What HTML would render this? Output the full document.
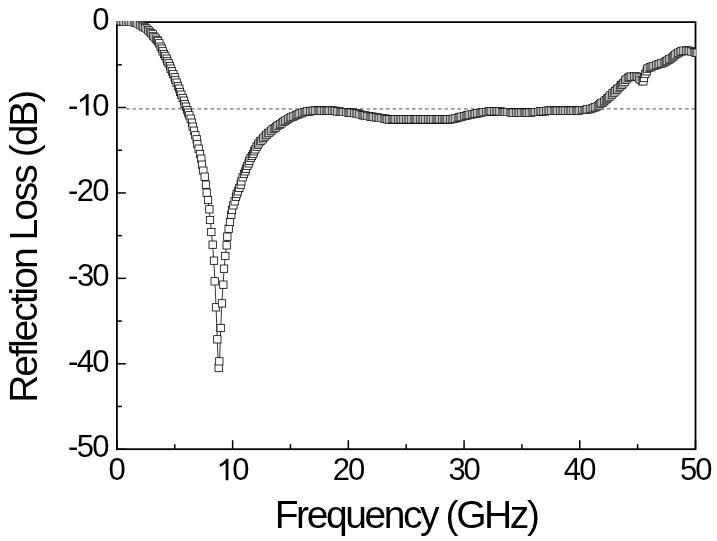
<!DOCTYPE html>
<html><head><meta charset="utf-8"><style>
html,body{margin:0;padding:0;background:#fff;width:717px;height:541px;overflow:hidden}
svg{display:block;will-change:transform}
text{font-family:"Liberation Sans",sans-serif}
</style></head><body>
<svg width="717" height="541" viewBox="0 0 717 541">
<defs><clipPath id="c"><rect x="116" y="21" width="580" height="429"/></clipPath></defs>
<line x1="126" y1="108.9" x2="695" y2="108.9" stroke="#9a9a9a" stroke-width="1.6" stroke-dasharray="3.6 2.9" stroke-dashoffset="0"/>
<rect x="116.9" y="22.1" width="578.6" height="427.09999999999997" stroke="#000" stroke-width="1.8" fill="none"/>
<g stroke="#000" stroke-width="1.5"><line x1="116.90" y1="449.2" x2="116.90" y2="440.2"/><line x1="116.9" y1="22.10" x2="125.9" y2="22.10"/><line x1="174.76" y1="449.2" x2="174.76" y2="444.2"/><line x1="116.9" y1="64.81" x2="121.9" y2="64.81"/><line x1="232.62" y1="449.2" x2="232.62" y2="440.2"/><line x1="116.9" y1="107.52" x2="125.9" y2="107.52"/><line x1="290.48" y1="449.2" x2="290.48" y2="444.2"/><line x1="116.9" y1="150.23" x2="121.9" y2="150.23"/><line x1="348.34" y1="449.2" x2="348.34" y2="440.2"/><line x1="116.9" y1="192.94" x2="125.9" y2="192.94"/><line x1="406.20" y1="449.2" x2="406.20" y2="444.2"/><line x1="116.9" y1="235.65" x2="121.9" y2="235.65"/><line x1="464.06" y1="449.2" x2="464.06" y2="440.2"/><line x1="116.9" y1="278.36" x2="125.9" y2="278.36"/><line x1="521.92" y1="449.2" x2="521.92" y2="444.2"/><line x1="116.9" y1="321.07" x2="121.9" y2="321.07"/><line x1="579.78" y1="449.2" x2="579.78" y2="440.2"/><line x1="116.9" y1="363.78" x2="125.9" y2="363.78"/><line x1="637.64" y1="449.2" x2="637.64" y2="444.2"/><line x1="116.9" y1="406.49" x2="121.9" y2="406.49"/><line x1="695.50" y1="449.2" x2="695.50" y2="440.2"/><line x1="116.9" y1="449.20" x2="125.9" y2="449.20"/></g>
<g clip-path="url(#c)">
<polyline points="117.74,21.60 118.90,21.60 120.06,21.60 121.21,21.60 122.37,21.61 123.53,21.63 124.68,21.67 125.84,21.71 127.00,21.76 128.15,21.81 129.31,21.87 130.47,21.94 131.62,22.03 132.78,22.15 133.94,22.29 135.10,22.53 136.25,22.90 137.41,23.38 138.57,23.91 139.72,24.47 140.88,25.04 142.04,25.67 143.19,26.37 144.35,27.13 145.51,27.94 146.67,28.81 147.82,29.75 148.98,30.77 150.14,31.87 151.29,33.05 152.45,34.32 153.61,35.80 154.76,37.31 155.92,38.61 157.08,39.81 158.24,41.30 159.39,43.60 160.55,46.40 161.71,48.70 162.86,51.00 164.02,53.80 165.18,56.10 166.34,58.40 167.49,61.20 168.65,63.50 169.81,66.00 170.96,68.80 172.12,71.50 173.28,74.30 174.43,77.20 175.59,80.10 176.75,82.90 177.91,85.90 179.06,88.90 180.22,92.00 181.38,94.90 182.53,97.90 183.69,100.90 184.85,103.90 186.00,106.80 187.16,109.80 188.32,112.60 189.47,115.30 190.63,118.60 191.79,122.50 192.95,126.60 194.10,130.60 195.26,135.20 196.42,139.40 197.57,144.00 198.73,148.60 199.89,153.70 201.05,158.80 202.20,164.90 203.36,170.90 204.52,176.80 205.67,184.50 206.83,192.60 207.99,200.00 209.14,209.60 210.30,220.00 211.46,231.90 212.62,244.90 213.77,260.70 214.93,281.60 216.09,307.40 217.24,339.50 218.40,367.80 219.56,361.50 220.71,328.20 221.87,303.60 223.03,284.60 224.19,268.70 225.34,255.70 226.50,245.40 227.66,236.60 228.81,228.50 229.97,221.70 231.13,214.40 232.28,209.70 233.44,205.50 234.60,201.40 235.75,196.80 236.91,194.00 238.07,191.60 239.23,188.20 240.38,184.70 241.54,181.20 242.70,177.60 243.85,174.20 245.01,171.20 246.17,168.40 247.33,165.70 248.48,163.30 249.64,160.70 250.80,158.30 251.95,156.00 253.11,153.70 254.27,151.40 255.42,149.00 256.58,146.40 257.74,144.57 258.89,143.02 260.05,141.65 261.21,140.37 262.37,139.10 263.52,137.85 264.68,136.66 265.84,135.52 266.99,134.42 268.15,133.37 269.31,132.36 270.47,131.39 271.62,130.46 272.78,129.56 273.94,128.69 275.09,127.84 276.25,127.02 277.41,126.20 278.56,125.40 279.72,124.61 280.88,123.82 282.04,123.04 283.19,122.27 284.35,121.52 285.51,120.79 286.66,120.08 287.82,119.41 288.98,118.77 290.13,118.15 291.29,117.55 292.45,116.97 293.61,116.40 294.76,115.86 295.92,115.35 297.08,114.86 298.23,114.41 299.39,113.98 300.55,113.56 301.70,113.13 302.86,112.72 304.02,112.33 305.18,111.98 306.33,111.68 307.49,111.45 308.65,111.30 309.80,111.18 310.96,111.07 312.12,110.98 313.27,110.89 314.43,110.82 315.59,110.76 316.75,110.72 317.90,110.70 319.06,110.70 320.22,110.70 321.37,110.70 322.53,110.71 323.69,110.72 324.84,110.72 326.00,110.73 327.16,110.74 328.31,110.75 329.47,110.76 330.63,110.78 331.79,110.79 332.94,110.82 334.10,110.88 335.26,110.97 336.41,111.09 337.57,111.23 338.73,111.39 339.88,111.55 341.04,111.70 342.20,111.85 343.36,111.98 344.51,112.10 345.67,112.21 346.83,112.31 347.98,112.41 349.14,112.51 350.30,112.61 351.46,112.73 352.61,112.85 353.77,112.99 354.93,113.15 356.08,113.35 357.24,113.59 358.40,113.87 359.55,114.17 360.71,114.47 361.87,114.78 363.02,115.08 364.18,115.36 365.34,115.61 366.50,115.83 367.65,116.02 368.81,116.21 369.97,116.39 371.12,116.57 372.28,116.73 373.44,116.90 374.60,117.06 375.75,117.22 376.91,117.39 378.07,117.56 379.22,117.74 380.38,117.94 381.54,118.13 382.69,118.33 383.85,118.52 385.01,118.70 386.17,118.86 387.32,119.01 388.48,119.13 389.64,119.23 390.79,119.29 391.95,119.32 393.11,119.35 394.26,119.37 395.42,119.40 396.58,119.42 397.74,119.45 398.89,119.47 400.05,119.49 401.21,119.51 402.36,119.52 403.52,119.54 404.68,119.55 405.83,119.56 406.99,119.57 408.15,119.58 409.31,119.59 410.46,119.59 411.62,119.60 412.78,119.60 413.93,119.60 415.09,119.60 416.25,119.60 417.40,119.60 418.56,119.60 419.72,119.60 420.88,119.60 422.03,119.60 423.19,119.60 424.35,119.60 425.50,119.60 426.66,119.60 427.82,119.60 428.97,119.60 430.13,119.60 431.29,119.60 432.45,119.60 433.60,119.60 434.76,119.60 435.92,119.60 437.07,119.60 438.23,119.60 439.39,119.60 440.54,119.60 441.70,119.60 442.86,119.59 444.01,119.56 445.17,119.51 446.33,119.45 447.49,119.38 448.64,119.30 449.80,119.21 450.96,119.11 452.11,119.01 453.27,118.86 454.43,118.64 455.59,118.37 456.74,118.05 457.90,117.71 459.06,117.37 460.21,117.05 461.37,116.76 462.53,116.49 463.68,116.22 464.84,115.94 466.00,115.67 467.15,115.41 468.31,115.15 469.47,114.89 470.63,114.64 471.78,114.40 472.94,114.17 474.10,113.94 475.25,113.71 476.41,113.48 477.57,113.25 478.73,113.04 479.88,112.83 481.04,112.64 482.20,112.47 483.35,112.32 484.51,112.18 485.67,112.03 486.82,111.89 487.98,111.75 489.14,111.62 490.29,111.51 491.45,111.42 492.61,111.35 493.77,111.31 494.92,111.30 496.08,111.32 497.24,111.37 498.39,111.44 499.55,111.52 500.71,111.61 501.87,111.71 503.02,111.80 504.18,111.89 505.34,111.97 506.49,112.04 507.65,112.12 508.81,112.20 509.96,112.28 511.12,112.36 512.28,112.44 513.44,112.50 514.59,112.55 515.75,112.59 516.91,112.60 518.06,112.60 519.22,112.60 520.38,112.60 521.53,112.60 522.69,112.60 523.85,112.60 525.00,112.60 526.16,112.60 527.32,112.60 528.48,112.60 529.63,112.57 530.79,112.51 531.95,112.42 533.10,112.33 534.26,112.22 535.42,112.11 536.58,112.01 537.73,111.91 538.89,111.78 540.05,111.65 541.20,111.50 542.36,111.36 543.52,111.23 544.67,111.10 545.83,111.00 546.99,110.93 548.14,110.89 549.30,110.87 550.46,110.85 551.62,110.83 552.77,110.82 553.93,110.81 555.09,110.79 556.24,110.78 557.40,110.77 558.56,110.77 559.72,110.76 560.87,110.74 562.03,110.73 563.19,110.72 564.34,110.70 565.50,110.69 566.66,110.67 567.81,110.65 568.97,110.63 570.13,110.61 571.28,110.59 572.44,110.56 573.60,110.53 574.76,110.50 575.91,110.47 577.07,110.43 578.23,110.39 579.38,110.34 580.54,110.28 581.70,110.21 582.86,110.14 584.01,110.05 585.17,109.94 586.33,109.79 587.48,109.59 588.64,109.34 589.80,109.05 590.95,108.73 592.11,108.37 593.27,107.99 594.43,107.59 595.58,107.11 596.74,106.52 597.90,105.83 599.05,105.07 600.21,104.27 601.37,103.45 602.52,102.62 603.68,101.74 604.84,100.79 606.00,99.80 607.15,98.77 608.31,97.72 609.47,96.65 610.62,95.57 611.78,94.50 612.94,93.44 614.09,92.36 615.25,91.26 616.41,90.15 617.57,89.03 618.72,87.89 619.88,86.74 621.04,85.58 622.19,84.40 623.35,83.09 624.51,81.68 625.66,80.30 626.82,79.10 627.98,78.21 629.13,77.54 630.29,76.97 631.45,76.59 632.61,76.45 633.76,76.37 634.92,76.32 636.08,76.30 637.23,76.69 638.39,77.52 639.55,78.53 640.71,79.95 641.86,81.36 643.02,81.10 644.18,78.17 645.33,74.32 646.49,71.02 647.65,68.58 648.80,67.85 649.96,67.57 651.12,67.26 652.27,66.82 653.43,66.33 654.59,65.82 655.75,65.32 656.90,64.87 658.06,64.50 659.22,64.19 660.37,63.90 661.53,63.58 662.69,63.19 663.85,62.72 665.00,62.17 666.16,61.56 667.32,60.91 668.47,60.22 669.63,59.51 670.79,58.72 671.94,57.80 673.10,56.82 674.26,55.82 675.41,54.89 676.57,54.07 677.73,53.41 678.89,52.75 680.04,52.09 681.20,51.50 682.36,51.02 683.51,50.71 684.67,50.60 685.83,50.63 686.99,50.70 688.14,50.81 689.30,50.94 690.46,51.11 691.61,51.42 692.77,51.79 693.93,52.15 695.08,52.41 696.24,52.60 697.40,52.76 698.56,52.89" fill="none" stroke="#000" stroke-width="0.8"/>
<g fill="#fff" stroke="#000" stroke-width="0.75"><rect x="114.333" y="17.667" width="7.333" height="7.333" stroke-width="0.55"/><rect x="115.000" y="17.667" width="7.333" height="7.333" stroke-width="0.55"/><rect x="116.333" y="17.667" width="7.333" height="7.333" stroke-width="0.55"/><rect x="117.667" y="17.667" width="7.333" height="7.333" stroke-width="0.55"/><rect x="119.000" y="17.667" width="7.333" height="7.333" stroke-width="0.55"/><rect x="119.667" y="17.667" width="7.333" height="7.333" stroke-width="0.55"/><rect x="121.000" y="18.333" width="7.333" height="7.333" stroke-width="0.55"/><rect x="122.333" y="18.333" width="7.333" height="7.333" stroke-width="0.55"/><rect x="123.000" y="18.333" width="7.333" height="7.333" stroke-width="0.55"/><rect x="124.333" y="18.333" width="7.333" height="7.333" stroke-width="0.55"/><rect x="125.667" y="18.333" width="7.333" height="7.333" stroke-width="0.55"/><rect x="127.000" y="18.333" width="7.333" height="7.333" stroke-width="0.55"/><rect x="127.667" y="18.333" width="7.333" height="7.333" stroke-width="0.55"/><rect x="129.000" y="18.333" width="7.333" height="7.333" stroke-width="0.55"/><rect x="130.333" y="18.333" width="7.333" height="7.333" stroke-width="0.55"/><rect x="131.667" y="19.000" width="7.333" height="7.333" stroke-width="0.55"/><rect x="132.333" y="19.000" width="7.333" height="7.333" stroke-width="0.55"/><rect x="133.667" y="19.667" width="7.333" height="7.333" stroke-width="0.56"/><rect x="135.000" y="20.333" width="7.333" height="7.333" stroke-width="0.56"/><rect x="136.333" y="21.000" width="7.333" height="7.333" stroke-width="0.57"/><rect x="137.000" y="21.667" width="7.333" height="7.333" stroke-width="0.57"/><rect x="138.333" y="22.333" width="7.333" height="7.333" stroke-width="0.58"/><rect x="139.667" y="23.000" width="7.333" height="7.333" stroke-width="0.59"/><rect x="141.000" y="23.667" width="7.333" height="7.333" stroke-width="0.60"/><rect x="141.667" y="24.333" width="7.333" height="7.333" stroke-width="0.61"/><rect x="143.000" y="25.000" width="7.333" height="7.333" stroke-width="0.62"/><rect x="144.333" y="26.333" width="7.333" height="7.333" stroke-width="0.63"/><rect x="145.000" y="27.000" width="7.333" height="7.333" stroke-width="0.64"/><rect x="146.333" y="28.333" width="7.333" height="7.333" stroke-width="0.65"/><rect x="147.667" y="29.667" width="7.333" height="7.333" stroke-width="0.67"/><rect x="149.000" y="30.333" width="7.333" height="7.333" stroke-width="0.69"/><rect x="149.667" y="32.333" width="7.333" height="7.333" stroke-width="0.71"/><rect x="151.000" y="33.667" width="7.333" height="7.333" stroke-width="0.70"/><rect x="152.333" y="35.000" width="7.333" height="7.333" stroke-width="0.67"/><rect x="153.667" y="36.333" width="7.333" height="7.333" stroke-width="0.69"/><rect x="154.333" y="37.667" width="7.333" height="7.333" stroke-width="0.77"/><rect x="155.667" y="39.667" width="7.333" height="7.333" stroke-width="0.80"/><rect x="157.000" y="43.000" width="7.333" height="7.333" stroke-width="0.80"/><rect x="158.333" y="45.000" width="7.333" height="7.333" stroke-width="0.80"/><rect x="159.000" y="47.667" width="7.333" height="7.333" stroke-width="0.80"/><rect x="160.333" y="50.333" width="7.333" height="7.333" stroke-width="0.80"/><rect x="161.667" y="52.333" width="7.333" height="7.333" stroke-width="0.80"/><rect x="163.000" y="55.000" width="7.333" height="7.333" stroke-width="0.80"/><rect x="163.667" y="57.667" width="7.333" height="7.333" stroke-width="0.80"/><rect x="165.000" y="59.667" width="7.333" height="7.333" stroke-width="0.80"/><rect x="166.333" y="62.333" width="7.333" height="7.333" stroke-width="0.80"/><rect x="167.000" y="65.000" width="7.333" height="7.333" stroke-width="0.80"/><rect x="168.333" y="67.667" width="7.333" height="7.333" stroke-width="0.80"/><rect x="169.667" y="70.333" width="7.333" height="7.333" stroke-width="0.80"/><rect x="171.000" y="73.667" width="7.333" height="7.333" stroke-width="0.80"/><rect x="171.667" y="76.333" width="7.333" height="7.333" stroke-width="0.80"/><rect x="173.000" y="79.000" width="7.333" height="7.333" stroke-width="0.80"/><rect x="174.333" y="82.333" width="7.333" height="7.333" stroke-width="0.80"/><rect x="175.667" y="85.000" width="7.333" height="7.333" stroke-width="0.80"/><rect x="176.333" y="88.333" width="7.333" height="7.333" stroke-width="0.80"/><rect x="177.667" y="91.000" width="7.333" height="7.333" stroke-width="0.80"/><rect x="179.000" y="94.333" width="7.333" height="7.333" stroke-width="0.80"/><rect x="180.333" y="97.000" width="7.333" height="7.333" stroke-width="0.80"/><rect x="181.000" y="100.333" width="7.333" height="7.333" stroke-width="0.80"/><rect x="182.333" y="103.000" width="7.333" height="7.333" stroke-width="0.80"/><rect x="183.667" y="106.333" width="7.333" height="7.333" stroke-width="0.80"/><rect x="184.333" y="109.000" width="7.333" height="7.333" stroke-width="0.80"/><rect x="185.667" y="111.667" width="7.333" height="7.333" stroke-width="0.80"/><rect x="187.000" y="115.000" width="7.333" height="7.333" stroke-width="0.80"/><rect x="188.333" y="119.000" width="7.333" height="7.333" stroke-width="0.80"/><rect x="189.000" y="123.000" width="7.333" height="7.333" stroke-width="0.80"/><rect x="190.333" y="127.000" width="7.333" height="7.333" stroke-width="0.80"/><rect x="191.667" y="131.667" width="7.333" height="7.333" stroke-width="0.80"/><rect x="193.000" y="135.667" width="7.333" height="7.333" stroke-width="0.80"/><rect x="193.667" y="140.333" width="7.333" height="7.333" stroke-width="0.80"/><rect x="195.000" y="145.000" width="7.333" height="7.333" stroke-width="0.80"/><rect x="196.333" y="150.333" width="7.333" height="7.333" stroke-width="0.80"/><rect x="197.667" y="155.000" width="7.333" height="7.333" stroke-width="0.80"/><rect x="198.333" y="161.000" width="7.333" height="7.333" stroke-width="0.80"/><rect x="199.667" y="167.000" width="7.333" height="7.333" stroke-width="0.80"/><rect x="201.000" y="173.000" width="7.333" height="7.333" stroke-width="0.80"/><rect x="202.333" y="181.000" width="7.333" height="7.333" stroke-width="0.80"/><rect x="203.000" y="189.000" width="7.333" height="7.333" stroke-width="0.80"/><rect x="204.333" y="196.333" width="7.333" height="7.333" stroke-width="0.80"/><rect x="205.667" y="205.667" width="7.333" height="7.333" stroke-width="0.80"/><rect x="206.333" y="216.333" width="7.333" height="7.333" stroke-width="0.80"/><rect x="207.667" y="228.333" width="7.333" height="7.333" stroke-width="0.80"/><rect x="209.000" y="241.000" width="7.333" height="7.333" stroke-width="0.80"/><rect x="210.333" y="257.000" width="7.333" height="7.333" stroke-width="0.80"/><rect x="211.000" y="277.667" width="7.333" height="7.333" stroke-width="0.80"/><rect x="212.333" y="303.667" width="7.333" height="7.333" stroke-width="0.80"/><rect x="213.667" y="335.667" width="7.333" height="7.333" stroke-width="0.80"/><rect x="215.000" y="364.333" width="7.333" height="7.333" stroke-width="0.80"/><rect x="215.667" y="357.667" width="7.333" height="7.333" stroke-width="0.80"/><rect x="217.000" y="324.333" width="7.333" height="7.333" stroke-width="0.80"/><rect x="218.333" y="299.667" width="7.333" height="7.333" stroke-width="0.80"/><rect x="219.667" y="281.000" width="7.333" height="7.333" stroke-width="0.80"/><rect x="220.333" y="265.000" width="7.333" height="7.333" stroke-width="0.80"/><rect x="221.667" y="252.333" width="7.333" height="7.333" stroke-width="0.80"/><rect x="223.000" y="241.667" width="7.333" height="7.333" stroke-width="0.80"/><rect x="223.667" y="233.000" width="7.333" height="7.333" stroke-width="0.80"/><rect x="225.000" y="225.000" width="7.333" height="7.333" stroke-width="0.80"/><rect x="226.333" y="218.333" width="7.333" height="7.333" stroke-width="0.80"/><rect x="227.667" y="211.000" width="7.333" height="7.333" stroke-width="0.80"/><rect x="228.333" y="206.333" width="7.333" height="7.333" stroke-width="0.80"/><rect x="229.667" y="201.667" width="7.333" height="7.333" stroke-width="0.80"/><rect x="231.000" y="197.667" width="7.333" height="7.333" stroke-width="0.80"/><rect x="232.333" y="193.000" width="7.333" height="7.333" stroke-width="0.80"/><rect x="233.000" y="190.333" width="7.333" height="7.333" stroke-width="0.80"/><rect x="234.333" y="187.667" width="7.333" height="7.333" stroke-width="0.80"/><rect x="235.667" y="184.333" width="7.333" height="7.333" stroke-width="0.80"/><rect x="237.000" y="181.000" width="7.333" height="7.333" stroke-width="0.80"/><rect x="237.667" y="177.667" width="7.333" height="7.333" stroke-width="0.80"/><rect x="239.000" y="173.667" width="7.333" height="7.333" stroke-width="0.80"/><rect x="240.333" y="170.333" width="7.333" height="7.333" stroke-width="0.80"/><rect x="241.667" y="167.667" width="7.333" height="7.333" stroke-width="0.80"/><rect x="242.333" y="165.000" width="7.333" height="7.333" stroke-width="0.80"/><rect x="243.667" y="162.333" width="7.333" height="7.333" stroke-width="0.80"/><rect x="245.000" y="159.667" width="7.333" height="7.333" stroke-width="0.80"/><rect x="245.667" y="157.000" width="7.333" height="7.333" stroke-width="0.80"/><rect x="247.000" y="154.333" width="7.333" height="7.333" stroke-width="0.80"/><rect x="248.333" y="152.333" width="7.333" height="7.333" stroke-width="0.80"/><rect x="249.667" y="150.333" width="7.333" height="7.333" stroke-width="0.80"/><rect x="250.333" y="147.667" width="7.333" height="7.333" stroke-width="0.80"/><rect x="251.667" y="145.667" width="7.333" height="7.333" stroke-width="0.80"/><rect x="253.000" y="143.000" width="7.333" height="7.333" stroke-width="0.80"/><rect x="254.333" y="141.000" width="7.333" height="7.333" stroke-width="0.74"/><rect x="255.000" y="139.667" width="7.333" height="7.333" stroke-width="0.70"/><rect x="256.333" y="137.667" width="7.333" height="7.333" stroke-width="0.68"/><rect x="257.667" y="137.000" width="7.333" height="7.333" stroke-width="0.68"/><rect x="259.000" y="135.667" width="7.333" height="7.333" stroke-width="0.67"/><rect x="259.667" y="134.333" width="7.333" height="7.333" stroke-width="0.67"/><rect x="261.000" y="133.000" width="7.333" height="7.333" stroke-width="0.66"/><rect x="262.333" y="131.667" width="7.333" height="7.333" stroke-width="0.65"/><rect x="263.000" y="131.000" width="7.333" height="7.333" stroke-width="0.64"/><rect x="264.333" y="129.667" width="7.333" height="7.333" stroke-width="0.64"/><rect x="265.667" y="129.000" width="7.333" height="7.333" stroke-width="0.63"/><rect x="267.000" y="127.667" width="7.333" height="7.333" stroke-width="0.63"/><rect x="267.667" y="127.000" width="7.333" height="7.333" stroke-width="0.62"/><rect x="269.000" y="125.667" width="7.333" height="7.333" stroke-width="0.62"/><rect x="270.333" y="125.000" width="7.333" height="7.333" stroke-width="0.61"/><rect x="271.667" y="124.333" width="7.333" height="7.333" stroke-width="0.61"/><rect x="272.333" y="123.667" width="7.333" height="7.333" stroke-width="0.61"/><rect x="273.667" y="122.333" width="7.333" height="7.333" stroke-width="0.60"/><rect x="275.000" y="121.667" width="7.333" height="7.333" stroke-width="0.60"/><rect x="276.333" y="121.000" width="7.333" height="7.333" stroke-width="0.60"/><rect x="277.000" y="120.333" width="7.333" height="7.333" stroke-width="0.60"/><rect x="278.333" y="119.667" width="7.333" height="7.333" stroke-width="0.60"/><rect x="279.667" y="118.333" width="7.333" height="7.333" stroke-width="0.60"/><rect x="281.000" y="117.667" width="7.333" height="7.333" stroke-width="0.59"/><rect x="281.667" y="117.000" width="7.333" height="7.333" stroke-width="0.59"/><rect x="283.000" y="116.333" width="7.333" height="7.333" stroke-width="0.59"/><rect x="284.333" y="115.667" width="7.333" height="7.333" stroke-width="0.58"/><rect x="285.000" y="115.000" width="7.333" height="7.333" stroke-width="0.58"/><rect x="286.333" y="114.333" width="7.333" height="7.333" stroke-width="0.57"/><rect x="287.667" y="113.667" width="7.333" height="7.333" stroke-width="0.57"/><rect x="289.000" y="113.000" width="7.333" height="7.333" stroke-width="0.57"/><rect x="289.667" y="113.000" width="7.333" height="7.333" stroke-width="0.56"/><rect x="291.000" y="112.333" width="7.333" height="7.333" stroke-width="0.56"/><rect x="292.333" y="111.667" width="7.333" height="7.333" stroke-width="0.56"/><rect x="293.667" y="111.000" width="7.333" height="7.333" stroke-width="0.55"/><rect x="294.333" y="111.000" width="7.333" height="7.333" stroke-width="0.55"/><rect x="295.667" y="110.333" width="7.333" height="7.333" stroke-width="0.55"/><rect x="297.000" y="109.667" width="7.333" height="7.333" stroke-width="0.55"/><rect x="298.333" y="109.667" width="7.333" height="7.333" stroke-width="0.55"/><rect x="299.000" y="109.000" width="7.333" height="7.333" stroke-width="0.55"/><rect x="300.333" y="108.333" width="7.333" height="7.333" stroke-width="0.55"/><rect x="301.667" y="108.333" width="7.333" height="7.333" stroke-width="0.55"/><rect x="302.333" y="108.333" width="7.333" height="7.333" stroke-width="0.55"/><rect x="303.667" y="107.667" width="7.333" height="7.333" stroke-width="0.55"/><rect x="305.000" y="107.667" width="7.333" height="7.333" stroke-width="0.55"/><rect x="306.333" y="107.667" width="7.333" height="7.333" stroke-width="0.55"/><rect x="307.000" y="107.667" width="7.333" height="7.333" stroke-width="0.55"/><rect x="308.333" y="107.000" width="7.333" height="7.333" stroke-width="0.55"/><rect x="309.667" y="107.000" width="7.333" height="7.333" stroke-width="0.55"/><rect x="311.000" y="107.000" width="7.333" height="7.333" stroke-width="0.55"/><rect x="311.667" y="107.000" width="7.333" height="7.333" stroke-width="0.55"/><rect x="313.000" y="107.000" width="7.333" height="7.333" stroke-width="0.55"/><rect x="314.333" y="107.000" width="7.333" height="7.333" stroke-width="0.55"/><rect x="315.667" y="107.000" width="7.333" height="7.333" stroke-width="0.55"/><rect x="316.333" y="107.000" width="7.333" height="7.333" stroke-width="0.55"/><rect x="317.667" y="107.000" width="7.333" height="7.333" stroke-width="0.55"/><rect x="319.000" y="107.000" width="7.333" height="7.333" stroke-width="0.55"/><rect x="320.333" y="107.000" width="7.333" height="7.333" stroke-width="0.55"/><rect x="321.000" y="107.000" width="7.333" height="7.333" stroke-width="0.55"/><rect x="322.333" y="107.000" width="7.333" height="7.333" stroke-width="0.55"/><rect x="323.667" y="107.000" width="7.333" height="7.333" stroke-width="0.55"/><rect x="324.333" y="107.000" width="7.333" height="7.333" stroke-width="0.55"/><rect x="325.667" y="107.000" width="7.333" height="7.333" stroke-width="0.55"/><rect x="327.000" y="107.000" width="7.333" height="7.333" stroke-width="0.55"/><rect x="328.333" y="107.000" width="7.333" height="7.333" stroke-width="0.55"/><rect x="329.000" y="107.000" width="7.333" height="7.333" stroke-width="0.55"/><rect x="330.333" y="107.000" width="7.333" height="7.333" stroke-width="0.55"/><rect x="331.667" y="107.000" width="7.333" height="7.333" stroke-width="0.55"/><rect x="333.000" y="107.667" width="7.333" height="7.333" stroke-width="0.55"/><rect x="333.667" y="107.667" width="7.333" height="7.333" stroke-width="0.55"/><rect x="335.000" y="107.667" width="7.333" height="7.333" stroke-width="0.55"/><rect x="336.333" y="107.667" width="7.333" height="7.333" stroke-width="0.55"/><rect x="337.667" y="108.333" width="7.333" height="7.333" stroke-width="0.55"/><rect x="338.333" y="108.333" width="7.333" height="7.333" stroke-width="0.55"/><rect x="339.667" y="108.333" width="7.333" height="7.333" stroke-width="0.55"/><rect x="341.000" y="108.333" width="7.333" height="7.333" stroke-width="0.55"/><rect x="342.333" y="108.333" width="7.333" height="7.333" stroke-width="0.55"/><rect x="343.000" y="108.333" width="7.333" height="7.333" stroke-width="0.55"/><rect x="344.333" y="109.000" width="7.333" height="7.333" stroke-width="0.55"/><rect x="345.667" y="109.000" width="7.333" height="7.333" stroke-width="0.55"/><rect x="346.333" y="109.000" width="7.333" height="7.333" stroke-width="0.55"/><rect x="347.667" y="109.000" width="7.333" height="7.333" stroke-width="0.55"/><rect x="349.000" y="109.000" width="7.333" height="7.333" stroke-width="0.55"/><rect x="350.333" y="109.000" width="7.333" height="7.333" stroke-width="0.55"/><rect x="351.000" y="109.667" width="7.333" height="7.333" stroke-width="0.55"/><rect x="352.333" y="109.667" width="7.333" height="7.333" stroke-width="0.55"/><rect x="353.667" y="109.667" width="7.333" height="7.333" stroke-width="0.55"/><rect x="355.000" y="110.333" width="7.333" height="7.333" stroke-width="0.55"/><rect x="355.667" y="110.333" width="7.333" height="7.333" stroke-width="0.55"/><rect x="357.000" y="111.000" width="7.333" height="7.333" stroke-width="0.55"/><rect x="358.333" y="111.000" width="7.333" height="7.333" stroke-width="0.55"/><rect x="359.667" y="111.667" width="7.333" height="7.333" stroke-width="0.55"/><rect x="360.333" y="111.667" width="7.333" height="7.333" stroke-width="0.55"/><rect x="361.667" y="111.667" width="7.333" height="7.333" stroke-width="0.55"/><rect x="363.000" y="112.333" width="7.333" height="7.333" stroke-width="0.55"/><rect x="363.667" y="112.333" width="7.333" height="7.333" stroke-width="0.55"/><rect x="365.000" y="112.333" width="7.333" height="7.333" stroke-width="0.55"/><rect x="366.333" y="113.000" width="7.333" height="7.333" stroke-width="0.55"/><rect x="367.667" y="113.000" width="7.333" height="7.333" stroke-width="0.55"/><rect x="368.333" y="113.000" width="7.333" height="7.333" stroke-width="0.55"/><rect x="369.667" y="113.000" width="7.333" height="7.333" stroke-width="0.55"/><rect x="371.000" y="113.667" width="7.333" height="7.333" stroke-width="0.55"/><rect x="372.333" y="113.667" width="7.333" height="7.333" stroke-width="0.55"/><rect x="373.000" y="113.667" width="7.333" height="7.333" stroke-width="0.55"/><rect x="374.333" y="113.667" width="7.333" height="7.333" stroke-width="0.55"/><rect x="375.667" y="114.333" width="7.333" height="7.333" stroke-width="0.55"/><rect x="377.000" y="114.333" width="7.333" height="7.333" stroke-width="0.55"/><rect x="377.667" y="114.333" width="7.333" height="7.333" stroke-width="0.55"/><rect x="379.000" y="114.333" width="7.333" height="7.333" stroke-width="0.55"/><rect x="380.333" y="115.000" width="7.333" height="7.333" stroke-width="0.55"/><rect x="381.667" y="115.000" width="7.333" height="7.333" stroke-width="0.55"/><rect x="382.333" y="115.000" width="7.333" height="7.333" stroke-width="0.55"/><rect x="383.667" y="115.667" width="7.333" height="7.333" stroke-width="0.55"/><rect x="385.000" y="115.667" width="7.333" height="7.333" stroke-width="0.55"/><rect x="385.667" y="115.667" width="7.333" height="7.333" stroke-width="0.55"/><rect x="387.000" y="115.667" width="7.333" height="7.333" stroke-width="0.55"/><rect x="388.333" y="115.667" width="7.333" height="7.333" stroke-width="0.55"/><rect x="389.667" y="115.667" width="7.333" height="7.333" stroke-width="0.55"/><rect x="390.333" y="115.667" width="7.333" height="7.333" stroke-width="0.55"/><rect x="391.667" y="115.667" width="7.333" height="7.333" stroke-width="0.55"/><rect x="393.000" y="115.667" width="7.333" height="7.333" stroke-width="0.55"/><rect x="394.333" y="115.667" width="7.333" height="7.333" stroke-width="0.55"/><rect x="395.000" y="115.667" width="7.333" height="7.333" stroke-width="0.55"/><rect x="396.333" y="115.667" width="7.333" height="7.333" stroke-width="0.55"/><rect x="397.667" y="115.667" width="7.333" height="7.333" stroke-width="0.55"/><rect x="399.000" y="115.667" width="7.333" height="7.333" stroke-width="0.55"/><rect x="399.667" y="115.667" width="7.333" height="7.333" stroke-width="0.55"/><rect x="401.000" y="115.667" width="7.333" height="7.333" stroke-width="0.55"/><rect x="402.333" y="115.667" width="7.333" height="7.333" stroke-width="0.55"/><rect x="403.000" y="115.667" width="7.333" height="7.333" stroke-width="0.55"/><rect x="404.333" y="115.667" width="7.333" height="7.333" stroke-width="0.55"/><rect x="405.667" y="115.667" width="7.333" height="7.333" stroke-width="0.55"/><rect x="407.000" y="115.667" width="7.333" height="7.333" stroke-width="0.55"/><rect x="407.667" y="115.667" width="7.333" height="7.333" stroke-width="0.55"/><rect x="409.000" y="115.667" width="7.333" height="7.333" stroke-width="0.55"/><rect x="410.333" y="115.667" width="7.333" height="7.333" stroke-width="0.55"/><rect x="411.667" y="115.667" width="7.333" height="7.333" stroke-width="0.55"/><rect x="412.333" y="115.667" width="7.333" height="7.333" stroke-width="0.55"/><rect x="413.667" y="115.667" width="7.333" height="7.333" stroke-width="0.55"/><rect x="415.000" y="115.667" width="7.333" height="7.333" stroke-width="0.55"/><rect x="416.333" y="115.667" width="7.333" height="7.333" stroke-width="0.55"/><rect x="417.000" y="115.667" width="7.333" height="7.333" stroke-width="0.55"/><rect x="418.333" y="115.667" width="7.333" height="7.333" stroke-width="0.55"/><rect x="419.667" y="115.667" width="7.333" height="7.333" stroke-width="0.55"/><rect x="421.000" y="115.667" width="7.333" height="7.333" stroke-width="0.55"/><rect x="421.667" y="115.667" width="7.333" height="7.333" stroke-width="0.55"/><rect x="423.000" y="115.667" width="7.333" height="7.333" stroke-width="0.55"/><rect x="424.333" y="115.667" width="7.333" height="7.333" stroke-width="0.55"/><rect x="425.000" y="115.667" width="7.333" height="7.333" stroke-width="0.55"/><rect x="426.333" y="115.667" width="7.333" height="7.333" stroke-width="0.55"/><rect x="427.667" y="115.667" width="7.333" height="7.333" stroke-width="0.55"/><rect x="429.000" y="115.667" width="7.333" height="7.333" stroke-width="0.55"/><rect x="429.667" y="115.667" width="7.333" height="7.333" stroke-width="0.55"/><rect x="431.000" y="115.667" width="7.333" height="7.333" stroke-width="0.55"/><rect x="432.333" y="115.667" width="7.333" height="7.333" stroke-width="0.55"/><rect x="433.667" y="115.667" width="7.333" height="7.333" stroke-width="0.55"/><rect x="434.333" y="115.667" width="7.333" height="7.333" stroke-width="0.55"/><rect x="435.667" y="115.667" width="7.333" height="7.333" stroke-width="0.55"/><rect x="437.000" y="115.667" width="7.333" height="7.333" stroke-width="0.55"/><rect x="438.333" y="115.667" width="7.333" height="7.333" stroke-width="0.55"/><rect x="439.000" y="115.667" width="7.333" height="7.333" stroke-width="0.55"/><rect x="440.333" y="115.667" width="7.333" height="7.333" stroke-width="0.55"/><rect x="441.667" y="115.667" width="7.333" height="7.333" stroke-width="0.55"/><rect x="442.333" y="115.667" width="7.333" height="7.333" stroke-width="0.55"/><rect x="443.667" y="115.667" width="7.333" height="7.333" stroke-width="0.55"/><rect x="445.000" y="115.667" width="7.333" height="7.333" stroke-width="0.55"/><rect x="446.333" y="115.667" width="7.333" height="7.333" stroke-width="0.55"/><rect x="447.000" y="115.667" width="7.333" height="7.333" stroke-width="0.55"/><rect x="448.333" y="115.667" width="7.333" height="7.333" stroke-width="0.55"/><rect x="449.667" y="115.000" width="7.333" height="7.333" stroke-width="0.55"/><rect x="451.000" y="115.000" width="7.333" height="7.333" stroke-width="0.55"/><rect x="451.667" y="115.000" width="7.333" height="7.333" stroke-width="0.55"/><rect x="453.000" y="114.333" width="7.333" height="7.333" stroke-width="0.55"/><rect x="454.333" y="114.333" width="7.333" height="7.333" stroke-width="0.55"/><rect x="455.667" y="113.667" width="7.333" height="7.333" stroke-width="0.55"/><rect x="456.333" y="113.667" width="7.333" height="7.333" stroke-width="0.55"/><rect x="457.667" y="113.000" width="7.333" height="7.333" stroke-width="0.55"/><rect x="459.000" y="113.000" width="7.333" height="7.333" stroke-width="0.55"/><rect x="460.333" y="112.333" width="7.333" height="7.333" stroke-width="0.55"/><rect x="461.000" y="112.333" width="7.333" height="7.333" stroke-width="0.55"/><rect x="462.333" y="112.333" width="7.333" height="7.333" stroke-width="0.55"/><rect x="463.667" y="111.667" width="7.333" height="7.333" stroke-width="0.55"/><rect x="464.333" y="111.667" width="7.333" height="7.333" stroke-width="0.55"/><rect x="465.667" y="111.000" width="7.333" height="7.333" stroke-width="0.55"/><rect x="467.000" y="111.000" width="7.333" height="7.333" stroke-width="0.55"/><rect x="468.333" y="111.000" width="7.333" height="7.333" stroke-width="0.55"/><rect x="469.000" y="110.333" width="7.333" height="7.333" stroke-width="0.55"/><rect x="470.333" y="110.333" width="7.333" height="7.333" stroke-width="0.55"/><rect x="471.667" y="110.333" width="7.333" height="7.333" stroke-width="0.55"/><rect x="473.000" y="109.667" width="7.333" height="7.333" stroke-width="0.55"/><rect x="473.667" y="109.667" width="7.333" height="7.333" stroke-width="0.55"/><rect x="475.000" y="109.667" width="7.333" height="7.333" stroke-width="0.55"/><rect x="476.333" y="109.000" width="7.333" height="7.333" stroke-width="0.55"/><rect x="477.667" y="109.000" width="7.333" height="7.333" stroke-width="0.55"/><rect x="478.333" y="109.000" width="7.333" height="7.333" stroke-width="0.55"/><rect x="479.667" y="108.333" width="7.333" height="7.333" stroke-width="0.55"/><rect x="481.000" y="108.333" width="7.333" height="7.333" stroke-width="0.55"/><rect x="482.333" y="108.333" width="7.333" height="7.333" stroke-width="0.55"/><rect x="483.000" y="108.333" width="7.333" height="7.333" stroke-width="0.55"/><rect x="484.333" y="108.333" width="7.333" height="7.333" stroke-width="0.55"/><rect x="485.667" y="107.667" width="7.333" height="7.333" stroke-width="0.55"/><rect x="486.333" y="107.667" width="7.333" height="7.333" stroke-width="0.55"/><rect x="487.667" y="107.667" width="7.333" height="7.333" stroke-width="0.55"/><rect x="489.000" y="107.667" width="7.333" height="7.333" stroke-width="0.55"/><rect x="490.333" y="107.667" width="7.333" height="7.333" stroke-width="0.55"/><rect x="491.000" y="107.667" width="7.333" height="7.333" stroke-width="0.55"/><rect x="492.333" y="107.667" width="7.333" height="7.333" stroke-width="0.55"/><rect x="493.667" y="107.667" width="7.333" height="7.333" stroke-width="0.55"/><rect x="495.000" y="107.667" width="7.333" height="7.333" stroke-width="0.55"/><rect x="495.667" y="107.667" width="7.333" height="7.333" stroke-width="0.55"/><rect x="497.000" y="107.667" width="7.333" height="7.333" stroke-width="0.55"/><rect x="498.333" y="108.333" width="7.333" height="7.333" stroke-width="0.55"/><rect x="499.667" y="108.333" width="7.333" height="7.333" stroke-width="0.55"/><rect x="500.333" y="108.333" width="7.333" height="7.333" stroke-width="0.55"/><rect x="501.667" y="108.333" width="7.333" height="7.333" stroke-width="0.55"/><rect x="503.000" y="108.333" width="7.333" height="7.333" stroke-width="0.55"/><rect x="503.667" y="108.333" width="7.333" height="7.333" stroke-width="0.55"/><rect x="505.000" y="108.333" width="7.333" height="7.333" stroke-width="0.55"/><rect x="506.333" y="108.333" width="7.333" height="7.333" stroke-width="0.55"/><rect x="507.667" y="109.000" width="7.333" height="7.333" stroke-width="0.55"/><rect x="508.333" y="109.000" width="7.333" height="7.333" stroke-width="0.55"/><rect x="509.667" y="109.000" width="7.333" height="7.333" stroke-width="0.55"/><rect x="511.000" y="109.000" width="7.333" height="7.333" stroke-width="0.55"/><rect x="512.333" y="109.000" width="7.333" height="7.333" stroke-width="0.55"/><rect x="513.000" y="109.000" width="7.333" height="7.333" stroke-width="0.55"/><rect x="514.333" y="109.000" width="7.333" height="7.333" stroke-width="0.55"/><rect x="515.667" y="109.000" width="7.333" height="7.333" stroke-width="0.55"/><rect x="517.000" y="109.000" width="7.333" height="7.333" stroke-width="0.55"/><rect x="517.667" y="109.000" width="7.333" height="7.333" stroke-width="0.55"/><rect x="519.000" y="109.000" width="7.333" height="7.333" stroke-width="0.55"/><rect x="520.333" y="109.000" width="7.333" height="7.333" stroke-width="0.55"/><rect x="521.667" y="109.000" width="7.333" height="7.333" stroke-width="0.55"/><rect x="522.333" y="109.000" width="7.333" height="7.333" stroke-width="0.55"/><rect x="523.667" y="109.000" width="7.333" height="7.333" stroke-width="0.55"/><rect x="525.000" y="109.000" width="7.333" height="7.333" stroke-width="0.55"/><rect x="525.667" y="109.000" width="7.333" height="7.333" stroke-width="0.55"/><rect x="527.000" y="109.000" width="7.333" height="7.333" stroke-width="0.55"/><rect x="528.333" y="109.000" width="7.333" height="7.333" stroke-width="0.55"/><rect x="529.667" y="108.333" width="7.333" height="7.333" stroke-width="0.55"/><rect x="530.333" y="108.333" width="7.333" height="7.333" stroke-width="0.55"/><rect x="531.667" y="108.333" width="7.333" height="7.333" stroke-width="0.55"/><rect x="533.000" y="108.333" width="7.333" height="7.333" stroke-width="0.55"/><rect x="534.333" y="108.333" width="7.333" height="7.333" stroke-width="0.55"/><rect x="535.000" y="108.333" width="7.333" height="7.333" stroke-width="0.55"/><rect x="536.333" y="107.667" width="7.333" height="7.333" stroke-width="0.55"/><rect x="537.667" y="107.667" width="7.333" height="7.333" stroke-width="0.55"/><rect x="539.000" y="107.667" width="7.333" height="7.333" stroke-width="0.55"/><rect x="539.667" y="107.667" width="7.333" height="7.333" stroke-width="0.55"/><rect x="541.000" y="107.667" width="7.333" height="7.333" stroke-width="0.55"/><rect x="542.333" y="107.667" width="7.333" height="7.333" stroke-width="0.55"/><rect x="543.000" y="107.000" width="7.333" height="7.333" stroke-width="0.55"/><rect x="544.333" y="107.000" width="7.333" height="7.333" stroke-width="0.55"/><rect x="545.667" y="107.000" width="7.333" height="7.333" stroke-width="0.55"/><rect x="547.000" y="107.000" width="7.333" height="7.333" stroke-width="0.55"/><rect x="547.667" y="107.000" width="7.333" height="7.333" stroke-width="0.55"/><rect x="549.000" y="107.000" width="7.333" height="7.333" stroke-width="0.55"/><rect x="550.333" y="107.000" width="7.333" height="7.333" stroke-width="0.55"/><rect x="551.667" y="107.000" width="7.333" height="7.333" stroke-width="0.55"/><rect x="552.333" y="107.000" width="7.333" height="7.333" stroke-width="0.55"/><rect x="553.667" y="107.000" width="7.333" height="7.333" stroke-width="0.55"/><rect x="555.000" y="107.000" width="7.333" height="7.333" stroke-width="0.55"/><rect x="556.333" y="107.000" width="7.333" height="7.333" stroke-width="0.55"/><rect x="557.000" y="107.000" width="7.333" height="7.333" stroke-width="0.55"/><rect x="558.333" y="107.000" width="7.333" height="7.333" stroke-width="0.55"/><rect x="559.667" y="107.000" width="7.333" height="7.333" stroke-width="0.55"/><rect x="561.000" y="107.000" width="7.333" height="7.333" stroke-width="0.55"/><rect x="561.667" y="107.000" width="7.333" height="7.333" stroke-width="0.55"/><rect x="563.000" y="107.000" width="7.333" height="7.333" stroke-width="0.55"/><rect x="564.333" y="107.000" width="7.333" height="7.333" stroke-width="0.55"/><rect x="565.000" y="107.000" width="7.333" height="7.333" stroke-width="0.55"/><rect x="566.333" y="107.000" width="7.333" height="7.333" stroke-width="0.55"/><rect x="567.667" y="107.000" width="7.333" height="7.333" stroke-width="0.55"/><rect x="569.000" y="107.000" width="7.333" height="7.333" stroke-width="0.55"/><rect x="569.667" y="107.000" width="7.333" height="7.333" stroke-width="0.55"/><rect x="571.000" y="107.000" width="7.333" height="7.333" stroke-width="0.55"/><rect x="572.333" y="107.000" width="7.333" height="7.333" stroke-width="0.55"/><rect x="573.667" y="107.000" width="7.333" height="7.333" stroke-width="0.55"/><rect x="574.333" y="107.000" width="7.333" height="7.333" stroke-width="0.55"/><rect x="575.667" y="107.000" width="7.333" height="7.333" stroke-width="0.55"/><rect x="577.000" y="106.333" width="7.333" height="7.333" stroke-width="0.55"/><rect x="578.333" y="106.333" width="7.333" height="7.333" stroke-width="0.55"/><rect x="579.000" y="106.333" width="7.333" height="7.333" stroke-width="0.55"/><rect x="580.333" y="106.333" width="7.333" height="7.333" stroke-width="0.55"/><rect x="581.667" y="106.333" width="7.333" height="7.333" stroke-width="0.55"/><rect x="582.333" y="106.333" width="7.333" height="7.333" stroke-width="0.55"/><rect x="583.667" y="105.667" width="7.333" height="7.333" stroke-width="0.55"/><rect x="585.000" y="105.667" width="7.333" height="7.333" stroke-width="0.55"/><rect x="586.333" y="105.667" width="7.333" height="7.333" stroke-width="0.55"/><rect x="587.000" y="105.000" width="7.333" height="7.333" stroke-width="0.55"/><rect x="588.333" y="105.000" width="7.333" height="7.333" stroke-width="0.55"/><rect x="589.667" y="104.333" width="7.333" height="7.333" stroke-width="0.55"/><rect x="591.000" y="103.667" width="7.333" height="7.333" stroke-width="0.55"/><rect x="591.667" y="103.667" width="7.333" height="7.333" stroke-width="0.56"/><rect x="593.000" y="103.000" width="7.333" height="7.333" stroke-width="0.58"/><rect x="594.333" y="102.333" width="7.333" height="7.333" stroke-width="0.59"/><rect x="595.667" y="101.667" width="7.333" height="7.333" stroke-width="0.60"/><rect x="596.333" y="100.333" width="7.333" height="7.333" stroke-width="0.60"/><rect x="597.667" y="99.667" width="7.333" height="7.333" stroke-width="0.61"/><rect x="599.000" y="99.000" width="7.333" height="7.333" stroke-width="0.61"/><rect x="600.333" y="98.333" width="7.333" height="7.333" stroke-width="0.62"/><rect x="601.000" y="97.000" width="7.333" height="7.333" stroke-width="0.63"/><rect x="602.333" y="96.333" width="7.333" height="7.333" stroke-width="0.63"/><rect x="603.667" y="95.000" width="7.333" height="7.333" stroke-width="0.64"/><rect x="604.333" y="94.333" width="7.333" height="7.333" stroke-width="0.64"/><rect x="605.667" y="93.000" width="7.333" height="7.333" stroke-width="0.64"/><rect x="607.000" y="91.667" width="7.333" height="7.333" stroke-width="0.64"/><rect x="608.333" y="91.000" width="7.333" height="7.333" stroke-width="0.64"/><rect x="609.000" y="89.667" width="7.333" height="7.333" stroke-width="0.64"/><rect x="610.333" y="89.000" width="7.333" height="7.333" stroke-width="0.65"/><rect x="611.667" y="87.667" width="7.333" height="7.333" stroke-width="0.65"/><rect x="613.000" y="86.333" width="7.333" height="7.333" stroke-width="0.65"/><rect x="613.667" y="85.667" width="7.333" height="7.333" stroke-width="0.65"/><rect x="615.000" y="84.333" width="7.333" height="7.333" stroke-width="0.66"/><rect x="616.333" y="83.000" width="7.333" height="7.333" stroke-width="0.66"/><rect x="617.667" y="81.667" width="7.333" height="7.333" stroke-width="0.66"/><rect x="618.333" y="81.000" width="7.333" height="7.333" stroke-width="0.67"/><rect x="619.667" y="79.667" width="7.333" height="7.333" stroke-width="0.69"/><rect x="621.000" y="78.333" width="7.333" height="7.333" stroke-width="0.69"/><rect x="621.667" y="76.333" width="7.333" height="7.333" stroke-width="0.68"/><rect x="623.000" y="75.667" width="7.333" height="7.333" stroke-width="0.64"/><rect x="624.333" y="74.333" width="7.333" height="7.333" stroke-width="0.60"/><rect x="625.667" y="73.667" width="7.333" height="7.333" stroke-width="0.57"/><rect x="626.333" y="73.000" width="7.333" height="7.333" stroke-width="0.55"/><rect x="627.667" y="73.000" width="7.333" height="7.333" stroke-width="0.55"/><rect x="629.000" y="73.000" width="7.333" height="7.333" stroke-width="0.55"/><rect x="630.333" y="73.000" width="7.333" height="7.333" stroke-width="0.55"/><rect x="631.000" y="72.333" width="7.333" height="7.333" stroke-width="0.55"/><rect x="632.333" y="72.333" width="7.333" height="7.333" stroke-width="0.55"/><rect x="633.667" y="73.000" width="7.333" height="7.333" stroke-width="0.57"/><rect x="635.000" y="73.667" width="7.333" height="7.333" stroke-width="0.62"/><rect x="635.667" y="75.000" width="7.333" height="7.333" stroke-width="0.67"/><rect x="637.000" y="76.333" width="7.333" height="7.333" stroke-width="0.70"/><rect x="638.333" y="77.667" width="7.333" height="7.333" stroke-width="0.57"/><rect x="639.667" y="77.667" width="7.333" height="7.333" stroke-width="0.72"/><rect x="640.333" y="74.333" width="7.333" height="7.333" stroke-width="0.80"/><rect x="641.667" y="70.333" width="7.333" height="7.333" stroke-width="0.80"/><rect x="643.000" y="67.667" width="7.333" height="7.333" stroke-width="0.80"/><rect x="643.667" y="65.000" width="7.333" height="7.333" stroke-width="0.72"/><rect x="645.000" y="64.333" width="7.333" height="7.333" stroke-width="0.56"/><rect x="646.333" y="63.667" width="7.333" height="7.333" stroke-width="0.55"/><rect x="647.667" y="63.667" width="7.333" height="7.333" stroke-width="0.55"/><rect x="648.333" y="63.000" width="7.333" height="7.333" stroke-width="0.55"/><rect x="649.667" y="62.333" width="7.333" height="7.333" stroke-width="0.56"/><rect x="651.000" y="62.333" width="7.333" height="7.333" stroke-width="0.56"/><rect x="652.333" y="61.667" width="7.333" height="7.333" stroke-width="0.55"/><rect x="653.000" y="61.000" width="7.333" height="7.333" stroke-width="0.55"/><rect x="654.333" y="61.000" width="7.333" height="7.333" stroke-width="0.55"/><rect x="655.667" y="60.333" width="7.333" height="7.333" stroke-width="0.55"/><rect x="657.000" y="60.333" width="7.333" height="7.333" stroke-width="0.55"/><rect x="657.667" y="59.667" width="7.333" height="7.333" stroke-width="0.55"/><rect x="659.000" y="59.667" width="7.333" height="7.333" stroke-width="0.55"/><rect x="660.333" y="59.000" width="7.333" height="7.333" stroke-width="0.56"/><rect x="661.667" y="58.333" width="7.333" height="7.333" stroke-width="0.57"/><rect x="662.333" y="57.667" width="7.333" height="7.333" stroke-width="0.58"/><rect x="663.667" y="57.000" width="7.333" height="7.333" stroke-width="0.58"/><rect x="665.000" y="56.333" width="7.333" height="7.333" stroke-width="0.59"/><rect x="665.667" y="55.667" width="7.333" height="7.333" stroke-width="0.59"/><rect x="667.000" y="55.000" width="7.333" height="7.333" stroke-width="0.61"/><rect x="668.333" y="54.333" width="7.333" height="7.333" stroke-width="0.63"/><rect x="669.667" y="53.000" width="7.333" height="7.333" stroke-width="0.63"/><rect x="670.333" y="52.333" width="7.333" height="7.333" stroke-width="0.63"/><rect x="671.667" y="51.000" width="7.333" height="7.333" stroke-width="0.61"/><rect x="673.000" y="50.333" width="7.333" height="7.333" stroke-width="0.59"/><rect x="674.333" y="49.667" width="7.333" height="7.333" stroke-width="0.58"/><rect x="675.000" y="49.000" width="7.333" height="7.333" stroke-width="0.58"/><rect x="676.333" y="48.333" width="7.333" height="7.333" stroke-width="0.57"/><rect x="677.667" y="47.667" width="7.333" height="7.333" stroke-width="0.56"/><rect x="679.000" y="47.667" width="7.333" height="7.333" stroke-width="0.55"/><rect x="679.667" y="47.000" width="7.333" height="7.333" stroke-width="0.55"/><rect x="681.000" y="47.000" width="7.333" height="7.333" stroke-width="0.55"/><rect x="682.333" y="47.000" width="7.333" height="7.333" stroke-width="0.55"/><rect x="683.000" y="47.000" width="7.333" height="7.333" stroke-width="0.55"/><rect x="684.333" y="47.000" width="7.333" height="7.333" stroke-width="0.55"/><rect x="685.667" y="47.000" width="7.333" height="7.333" stroke-width="0.55"/><rect x="687.000" y="47.667" width="7.333" height="7.333" stroke-width="0.55"/><rect x="687.667" y="47.667" width="7.333" height="7.333" stroke-width="0.55"/><rect x="689.000" y="48.333" width="7.333" height="7.333" stroke-width="0.55"/><rect x="690.333" y="48.333" width="7.333" height="7.333" stroke-width="0.55"/><rect x="691.667" y="49.000" width="7.333" height="7.333" stroke-width="0.55"/><rect x="692.333" y="49.000" width="7.333" height="7.333" stroke-width="0.55"/><rect x="693.667" y="49.000" width="7.333" height="7.333" stroke-width="0.55"/><rect x="695.000" y="49.000" width="7.333" height="7.333" stroke-width="0.55"/></g>
</g>
<g font-size="31" fill="#000"><text x="108.58" y="480.20">0</text><path d="M228.45,480.20 L228.45,458.70 L226.45,458.70 Q224.25,461.90 219.65,464.30 L219.95,466.90 Q223.05,465.30 225.65,463.20 L225.65,480.20 Z"/><text x="232.13" y="480.20">0</text><text x="332.68" y="480.20">2</text><text x="348.03" y="480.20">0</text><text x="448.52" y="480.20">3</text><text x="463.48" y="480.20">0</text><text x="563.78" y="480.20">4</text><text x="579.33" y="480.20">0</text><text x="680.06" y="480.20">5</text><text x="695.28" y="480.20">0</text><text x="92.23" y="30.20">0</text><text x="92.23" y="115.62">0</text><text x="67.89" y="115.62">-</text><path d="M88.60,115.62 L88.60,94.12 L86.60,94.12 Q84.40,97.32 79.80,99.72 L80.10,102.32 Q83.20,100.72 85.80,98.62 L85.80,115.62 Z"/><text x="92.23" y="201.04">0</text><text x="67.89" y="201.04">-</text><text x="76.78" y="201.04">2</text><text x="92.23" y="286.46">0</text><text x="67.89" y="286.46">-</text><text x="77.12" y="286.46">3</text><text x="92.23" y="371.88">0</text><text x="67.89" y="371.88">-</text><text x="76.63" y="371.88">4</text><text x="92.23" y="457.30">0</text><text x="67.89" y="457.30">-</text><text x="76.71" y="457.30">5</text></g>
<text x="274.7" y="528" font-size="39" letter-spacing="-2.42">Frequency (GHz)</text>
<text transform="translate(37,402.8) rotate(-90)" font-size="39" letter-spacing="-2">Reflection Loss (dB)</text>
</svg>
</body></html>
